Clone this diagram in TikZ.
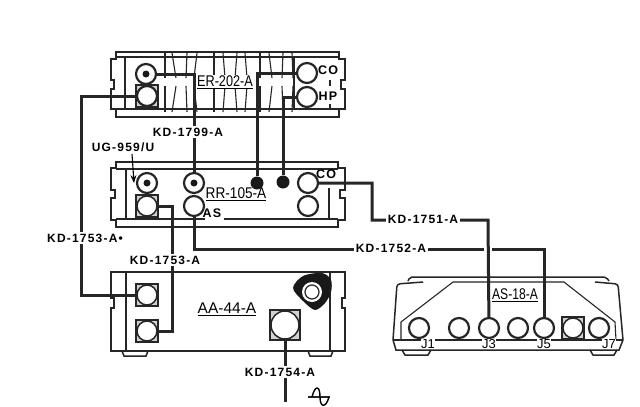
\documentclass[tikz,border=0pt]{standalone}
\usepackage{fontspec}
\setmainfont{Liberation Sans}
\newfontfamily\kdfont[LetterSpace=10,BoldFont={* Bold}]{Liberation Sans}
\usetikzlibrary{arrows.meta}
\tikzset{
    body/.style={line width=1.5pt,color=black!85},
    thinline/.style={line width=1.1pt,color=black!85},
    wire/.style={line width=3pt,color=black!85},
    jack/.style={circle,draw=black!85,fill=white,line width=2.2pt,minimum size=20pt,inner sep=0pt},
    sqbox/.style={rectangle,draw=black!85,fill=black!18,line width=1.5pt,minimum size=22pt,inner sep=0pt},
    pin/.style={circle,fill=black!90,minimum size=7pt,inner sep=0pt},
    bigpin/.style={circle,fill=black!90,minimum size=13pt,inner sep=0pt},
    kdlabel/.style={fill=white,inner sep=1.5pt,font=\fontsize{12}{14}\kdfont\bfseries},
    title/.style={inner sep=1pt,font=\fontsize{15.5}{18}\selectfont},
    portlabel/.style={inner sep=0pt,font=\fontsize{12.5}{14}\kdfont\bfseries},
    jlabel/.style={fill=white,inner sep=0pt,font=\fontsize{13}{15}\selectfont}
}
\begin{document}
\begin{tikzpicture}[x=1pt,y=-1pt,> = Stealth]
    \useasboundingbox (0,0) rectangle (640,407);
    \fill[white] (0,0) rectangle (640,407);

    \draw[body] (111,59) -- (116,59) -- (116,52) -- (339,52) -- (339,59) -- (345,59) -- (345,80) -- (341,80) -- (341,89) -- (345,89) -- (345,109) -- (339,109) -- (339,117) -- (116,117) -- (116,109) -- (111,109) -- (111,89) -- (114,89) -- (114,80) -- (111,80) -- cycle;
    \draw[body] (116,57) -- (339,57);
    \draw[body] (116,109) -- (339,109);
    \draw[body] (125,57) -- (125,109);
    \draw[body] (294,57) -- (294,109);
    \foreach \xa/\xb in {165/165,172/176,197/194,187/186,214/214,223/225,237/235,245/247,260/260,269/272,283/282,292/293} {
        \draw[thinline] (\xa,53) -- (\xb,78);
        \draw[thinline] (\xb,86) -- (\xa,112);
    }
    \draw[thinline] (330,80) -- (330,86);
    \draw[thinline] (330,104) -- (330,109);

    \draw[body] (111,168) -- (116,168) -- (116,162) -- (338,162) -- (338,168) -- (345,168) -- (345,190) -- (340,190) -- (340,198) -- (345,198) -- (345,220) -- (338,220) -- (338,227) -- (116,227) -- (116,220) -- (111,220) -- (111,198) -- (115,198) -- (115,190) -- (111,190) -- cycle;
    \draw[body] (116,169) -- (338,169);
    \draw[body] (116,219) -- (205,219);
    \draw[body] (224,219) -- (338,219);
    \draw[body] (126,169) -- (126,219);
    \draw[body] (329,188) -- (329,219);

    \draw[body] (111,272) -- (345,272) -- (345,298) -- (342,298) -- (342,308) -- (345,308) -- (345,351) -- (111,351) -- (111,308) -- (114,308) -- (114,298) -- (111,298) -- cycle;
    \draw[body] (126,272) -- (126,351);
    \draw[body] (330,272) -- (330,351);
    \draw[body] (122,351) -- (124,356) -- (146,356) -- (148,351);
    \draw[body] (308,351) -- (310,356) -- (331,356) -- (333,351);
    \fill[black!90] plot[smooth cycle] coordinates {(293,288) (303,276) (322,273) (331,280) (331,292) (325,303) (315,310) (303,301)};

    \draw[body,rounded corners=3pt] (393,340) -- (397,284) -- (423,282);
    \draw[body,rounded corners=2pt] (408,281) -- (410,277) -- (606,277) -- (609,281);
    \draw[body,rounded corners=3pt] (595,282) -- (618,284) -- (623,340);
    \draw[thinline] (401,340) -- (401,322) -- (453,282) -- (564,282) -- (615,322) -- (616,340);
    \draw[body] (393,340) -- (623,340);
    \draw[body] (393,340) -- (396,350) -- (619,350) -- (623,340);
    \draw[body] (402,350) -- (405,355) -- (428,355) -- (431,350);
    \draw[body] (590,350) -- (593,355) -- (614,355) -- (617,350);

    \node[sqbox] at (147,96) {};
    \node[sqbox] at (147,206) {};
    \node[sqbox] at (147,295) {};
    \node[sqbox] at (147,331) {};
    \node[sqbox,minimum size=30pt] at (285,325) {};
    \node[sqbox] at (573,328) {};

    \node[jack] (erbnc) at (146,74) {};
    \node[jack] (ersq) at (147,96) {};
    \node[jack] (erco) at (307,73) {};
    \node[jack] (erhp) at (307,97) {};
    \node[jack] (rrbnca) at (147,183) {};
    \node[jack,line width=1.5pt] (rrsq) at (147,206) {};
    \node[jack] (rrbncb) at (194,183) {};
    \node[jack] (rras) at (194,206) {};
    \node[jack] (rrco) at (308,183) {};
    \node[jack] (rrlow) at (308,206) {};
    \node[bigpin] (rrdota) at (257,183) {};
    \node[bigpin] (rrdotb) at (283,182) {};
    \node[jack,line width=1.5pt] (aasqa) at (147,295) {};
    \node[jack,line width=1.5pt] (aasqb) at (147,331) {};
    \node[jack,line width=1.5pt,minimum size=28pt] (aapow) at (285,325) {};
    \node[jack,draw=none,minimum size=20pt] (aaknob) at (312,292) {};
    \node[jack,line width=1.2pt,minimum size=14pt] at (312,292) {};
    \node[jack] (asja) at (419,328) {};
    \node[jack] (asjb) at (459,328) {};
    \node[jack] (asjc) at (489,328) {};
    \node[jack] (asjd) at (518,328) {};
    \node[jack] (asje) at (544,328) {};
    \node[jack,line width=1.5pt] (asjf) at (573,328) {};
    \node[jack] (asjg) at (599,328) {};
    \node[pin] at (146,74) {};
    \node[pin] at (147,183) {};
    \node[pin] at (194,183) {};

    \coordinate (leftcorner) at (81,96);
    \coordinate (rrdrop) at (172,206);
    \coordinate (rasdrop) at (194,249);
    \coordinate (cobend) at (372,183);
    \coordinate (cokd) at (488,220);
    \coordinate (coup) at (372,220);
    \coordinate (aseast) at (544,249);
    \coordinate (powend) at (285,402);
    \coordinate (ugtail) at (132,154);
    \coordinate (ugtip) at (134,183);

    \draw[wire] (erbnc) -| (rrbncb);
    \draw[wire] (erco) -| (rrdota);
    \draw[wire] (erhp) -| (rrdotb);
    \draw[wire] (ersq) -- (leftcorner) |- (aasqa);
    \draw[wire] (rrsq) -- (rrdrop) |- (aasqb);
    \draw[wire] (rras) -- (rasdrop) -- (aseast) -- (asje);
    \fill[white] (484,246) rectangle (492,252);
    \draw[wire] (rrco) -- (cobend) -- (coup) -- (cokd) -- (asjc);
    \draw[wire] (aapow) -- (powend);
    \draw[line width=1.1pt,->] (ugtail) -- (ugtip);

    \node[title,fill=white] (ertitle) at (225,82) {\underline{\scalebox{.82}[1]{ER-202-A}}};
    \node[title] (rrtitle) at (236,194) {\underline{\scalebox{.88}[1]{RR-105-A}}};
    \node[title] (aatitle) at (227,309) {\underline{AA-44-A}};
    \node[title] (astitle) at (515,295) {\underline{\scalebox{.78}[1]{AS-18-A}}};
    \node[portlabel] (erlco) at (328,70) {CO};
    \node[portlabel] (erlhp) at (328,96) {HP};
    \node[portlabel] (rrlco) at (326,174) {CO};
    \node[portlabel] (rrlas) at (212,213) {AS};

    \node[kdlabel] (kdnn) at (188,132) {KD-1799-A};
    \node[kdlabel] (ugnode) at (123,147) {UG-959/U};
    \node[kdlabel] (kdfivethreel) at (85,238) {KD-1753-A\textbullet};
    \node[kdlabel] (kdfivethreer) at (165,260) {KD-1753-A};
    \node[kdlabel] (kdfiveone) at (423,219) {KD-1751-A};
    \node[kdlabel] (kdfivetwo) at (391,248) {KD-1752-A};
    \node[kdlabel] (kdfivefour) at (280,372) {KD-1754-A};

    \node[jlabel] (jone) at (428,344) {J1};
    \node[jlabel] (jthree) at (489,344) {J3};
    \node[jlabel] (jfive) at (544,344) {J5};
    \node[jlabel] (jseven) at (609,344) {J7};

    \draw[thinline] (308,397) -- (330,397);
    \draw[line width=1.4pt] (312,397) .. controls (315,385) and (320,385) .. (320,397) .. controls (320,408) and (326,408) .. (329,397);
\end{tikzpicture}
\end{document}
